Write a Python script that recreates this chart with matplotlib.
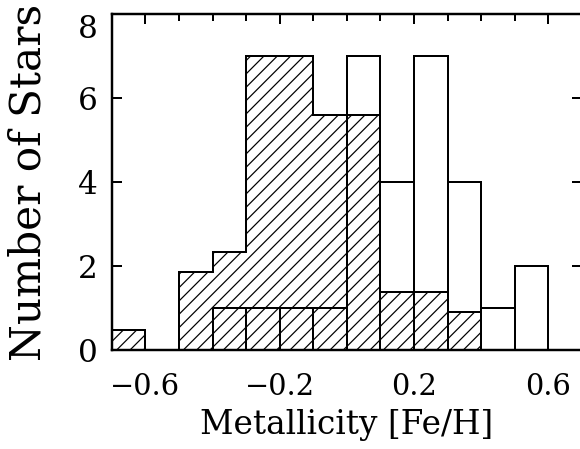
import matplotlib
matplotlib.use('Agg')
import matplotlib.pyplot as plt
from matplotlib.ticker import MultipleLocator

# metallicity bins, width 0.1 dex
bin_edges = [-0.7, -0.6, -0.5, -0.4, -0.3, -0.2, -0.1, 0.0, 0.1, 0.2, 0.3, 0.4, 0.5, 0.6]
# hatched histogram (weighted counts)
hatched_counts = [0.47, 0, 1.86, 2.34, 7.0, 7.0, 5.6, 5.6, 1.39, 1.39, 0.91, 0, 0]
# open histogram
open_counts = [0, 0, 0, 1, 1, 1, 1, 7, 4, 7, 4, 1, 2]

plt.rcParams['font.family'] = ['DejaVu Serif']
plt.rcParams['hatch.linewidth'] = 1.1

fig = plt.figure(figsize=(7.25, 5.6125), dpi=80)
ax = fig.add_axes([0.193, 0.2205, 0.81, 0.748])

ax.stairs(hatched_counts, bin_edges, fill=True, facecolor='white',
          edgecolor='black', hatch='//', linewidth=1.8)
ax.bar(bin_edges[:-1], open_counts, width=0.1, align='edge', fill=False,
       edgecolor='black', linewidth=1.8)

ax.set_xlim(-0.7, 0.7)
ax.set_ylim(0, 8)
ax.set_xticks([-0.6, -0.2, 0.2, 0.6])
ax.xaxis.set_minor_locator(MultipleLocator(0.1))
ax.set_yticks([0, 2, 4, 6, 8])
ax.tick_params(which='both', direction='in', top=True, right=True, width=1.8)
ax.tick_params(axis='x', pad=21, labelsize=26)
ax.tick_params(axis='y', pad=13, labelsize=28)
ax.tick_params(which='major', length=9)
ax.tick_params(which='minor', length=6)
for s in ax.spines.values():
    s.set_linewidth(2.2)
# top label sits below the frame corner
ax.get_yticklabels()[-1].set_va('top')

ax.set_xlabel('Metallicity [Fe/H]', fontsize=29.5, labelpad=7)
ax.set_ylabel('Number of Stars', fontsize=38, labelpad=25)

fig.savefig('out.png', dpi=80)
